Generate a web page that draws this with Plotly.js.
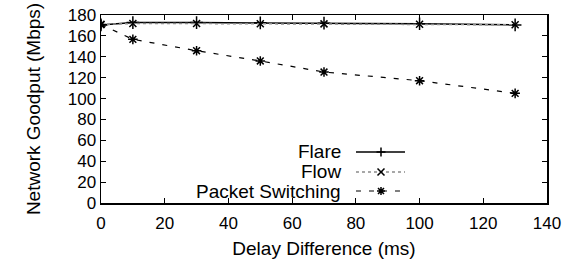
<!DOCTYPE html>
<html>
<head>
<meta charset="utf-8">
<script src="https://cdn.plot.ly/plotly-3.0.1.min.js"></script>
<style>html,body{margin:0;padding:0;background:#fff;}#chart{width:574px;height:263px;}</style>
</head>
<body>
<div id="chart"></div>
<script>
var delays = [0, 10, 30, 50, 70, 100, 130];
var flare = [170.5, 172.7, 172.7, 172.5, 172.2, 171.6, 170.5];
var flow = [171, 171.8, 171.8, 171.7, 171.5, 171.2, 170.6];
var packetSwitching = [170.8, 156.7, 145.8, 136, 125.4, 117.1, 105];
var seriesNames = ['Flare', 'Flow', 'Packet Switching'];
var xTicks = [0, 20, 40, 60, 80, 100, 120, 140];
var yTicks = [0, 20, 40, 60, 80, 100, 120, 140, 160, 180];

var FONT = 'Liberation Sans, Arial, sans-serif';

var traces = [
  {x: delays, y: flare, name: seriesNames[0], mode: 'lines+markers', type: 'scatter',
   line: {color: '#000', width: 1.5},
   marker: {symbol: 'cross-thin-open', size: 9, line: {color: '#000', width: 1.5}}},
  {x: delays, y: flow, name: seriesNames[1], mode: 'lines+markers', type: 'scatter',
   line: {color: '#8a8a8a', width: 1.5, dash: 'dot'},
   marker: {symbol: 'x-thin-open', size: 7, color: '#000', line: {color: '#000', width: 1.5}}},
  {x: delays, y: packetSwitching, name: seriesNames[2], mode: 'lines+markers', type: 'scatter',
   line: {color: '#000', width: 1.2, dash: '5px,8px'},
   marker: {symbol: 'asterisk-open', size: 8, line: {color: '#000', width: 1.5}}}
];

// custom legend (text right, sample on left) in paper coordinates
var rowY = [0.2713, 0.1649, 0.0638];
var textX = 0.5426, lineX0 = 0.5717, lineX1 = 0.6816, markX = 0.6278;
var annotations = [], shapes = [];
var lineStyles = [
  {color: '#000', width: 1.5, dash: 'solid'},
  {color: '#8a8a8a', width: 1.5, dash: 'dot'},
  {color: '#000', width: 1.2, dash: '5px,8px'}
];
var markPaths = [
  'M0,-4.5 L0,4.5 M-4.5,0 L4.5,0',
  'M-3.5,-3.5 L3.5,3.5 M-3.5,3.5 L3.5,-3.5',
  'M0,-4 L0,4 M-4,0 L4,0 M-3,-3 L3,3 M-3,3 L3,-3'
];
for (var i = 0; i < 3; i++) {
  annotations.push({xref: 'paper', yref: 'paper', x: textX, y: rowY[i], text: seriesNames[i],
    showarrow: false, xanchor: 'right', yanchor: 'middle',
    font: {family: FONT, size: 19, color: '#000'}});
  shapes.push({type: 'line', xref: 'paper', yref: 'paper', x0: lineX0, x1: lineX1, y0: rowY[i], y1: rowY[i],
    line: lineStyles[i]});
  shapes.push({type: 'path', xref: 'paper', yref: 'paper', xsizemode: 'pixel', ysizemode: 'pixel',
    xanchor: markX, yanchor: rowY[i], path: markPaths[i], line: {color: '#000', width: 1.5}});
}

var layout = {
  width: 574, height: 263,
  margin: {l: 101, r: 27, t: 15, b: 60},
  paper_bgcolor: '#fff', plot_bgcolor: '#fff',
  showlegend: false,
  font: {family: FONT, color: '#000', size: 17},
  xaxis: {
    range: [0, 140], tickvals: xTicks, ticktext: xTicks.map(String),
    ticks: 'inside', ticklen: 5, tickwidth: 1, tickcolor: '#000',
    showline: true, linecolor: '#000', linewidth: 1.5, mirror: 'ticks',
    showgrid: false, zeroline: false,
    tickfont: {family: FONT, size: 17}, ticklabelstandoff: 4,
    title: {text: 'Delay Difference (ms)', font: {family: FONT, size: 19}, standoff: 10}
  },
  yaxis: {
    range: [0, 180], tickvals: yTicks, ticktext: yTicks.map(String),
    ticks: 'inside', ticklen: 5, tickwidth: 1, tickcolor: '#000',
    showline: true, linecolor: '#000', linewidth: 1.5, mirror: 'ticks',
    showgrid: false, zeroline: false,
    tickfont: {family: FONT, size: 17},
    title: {text: 'Network Goodput (Mbps)', font: {family: FONT, size: 19}, standoff: 22}
  },
  annotations: annotations,
  shapes: shapes
};

Plotly.newPlot('chart', traces, layout, {displayModeBar: false, staticPlot: true});
</script>
</body>
</html>
